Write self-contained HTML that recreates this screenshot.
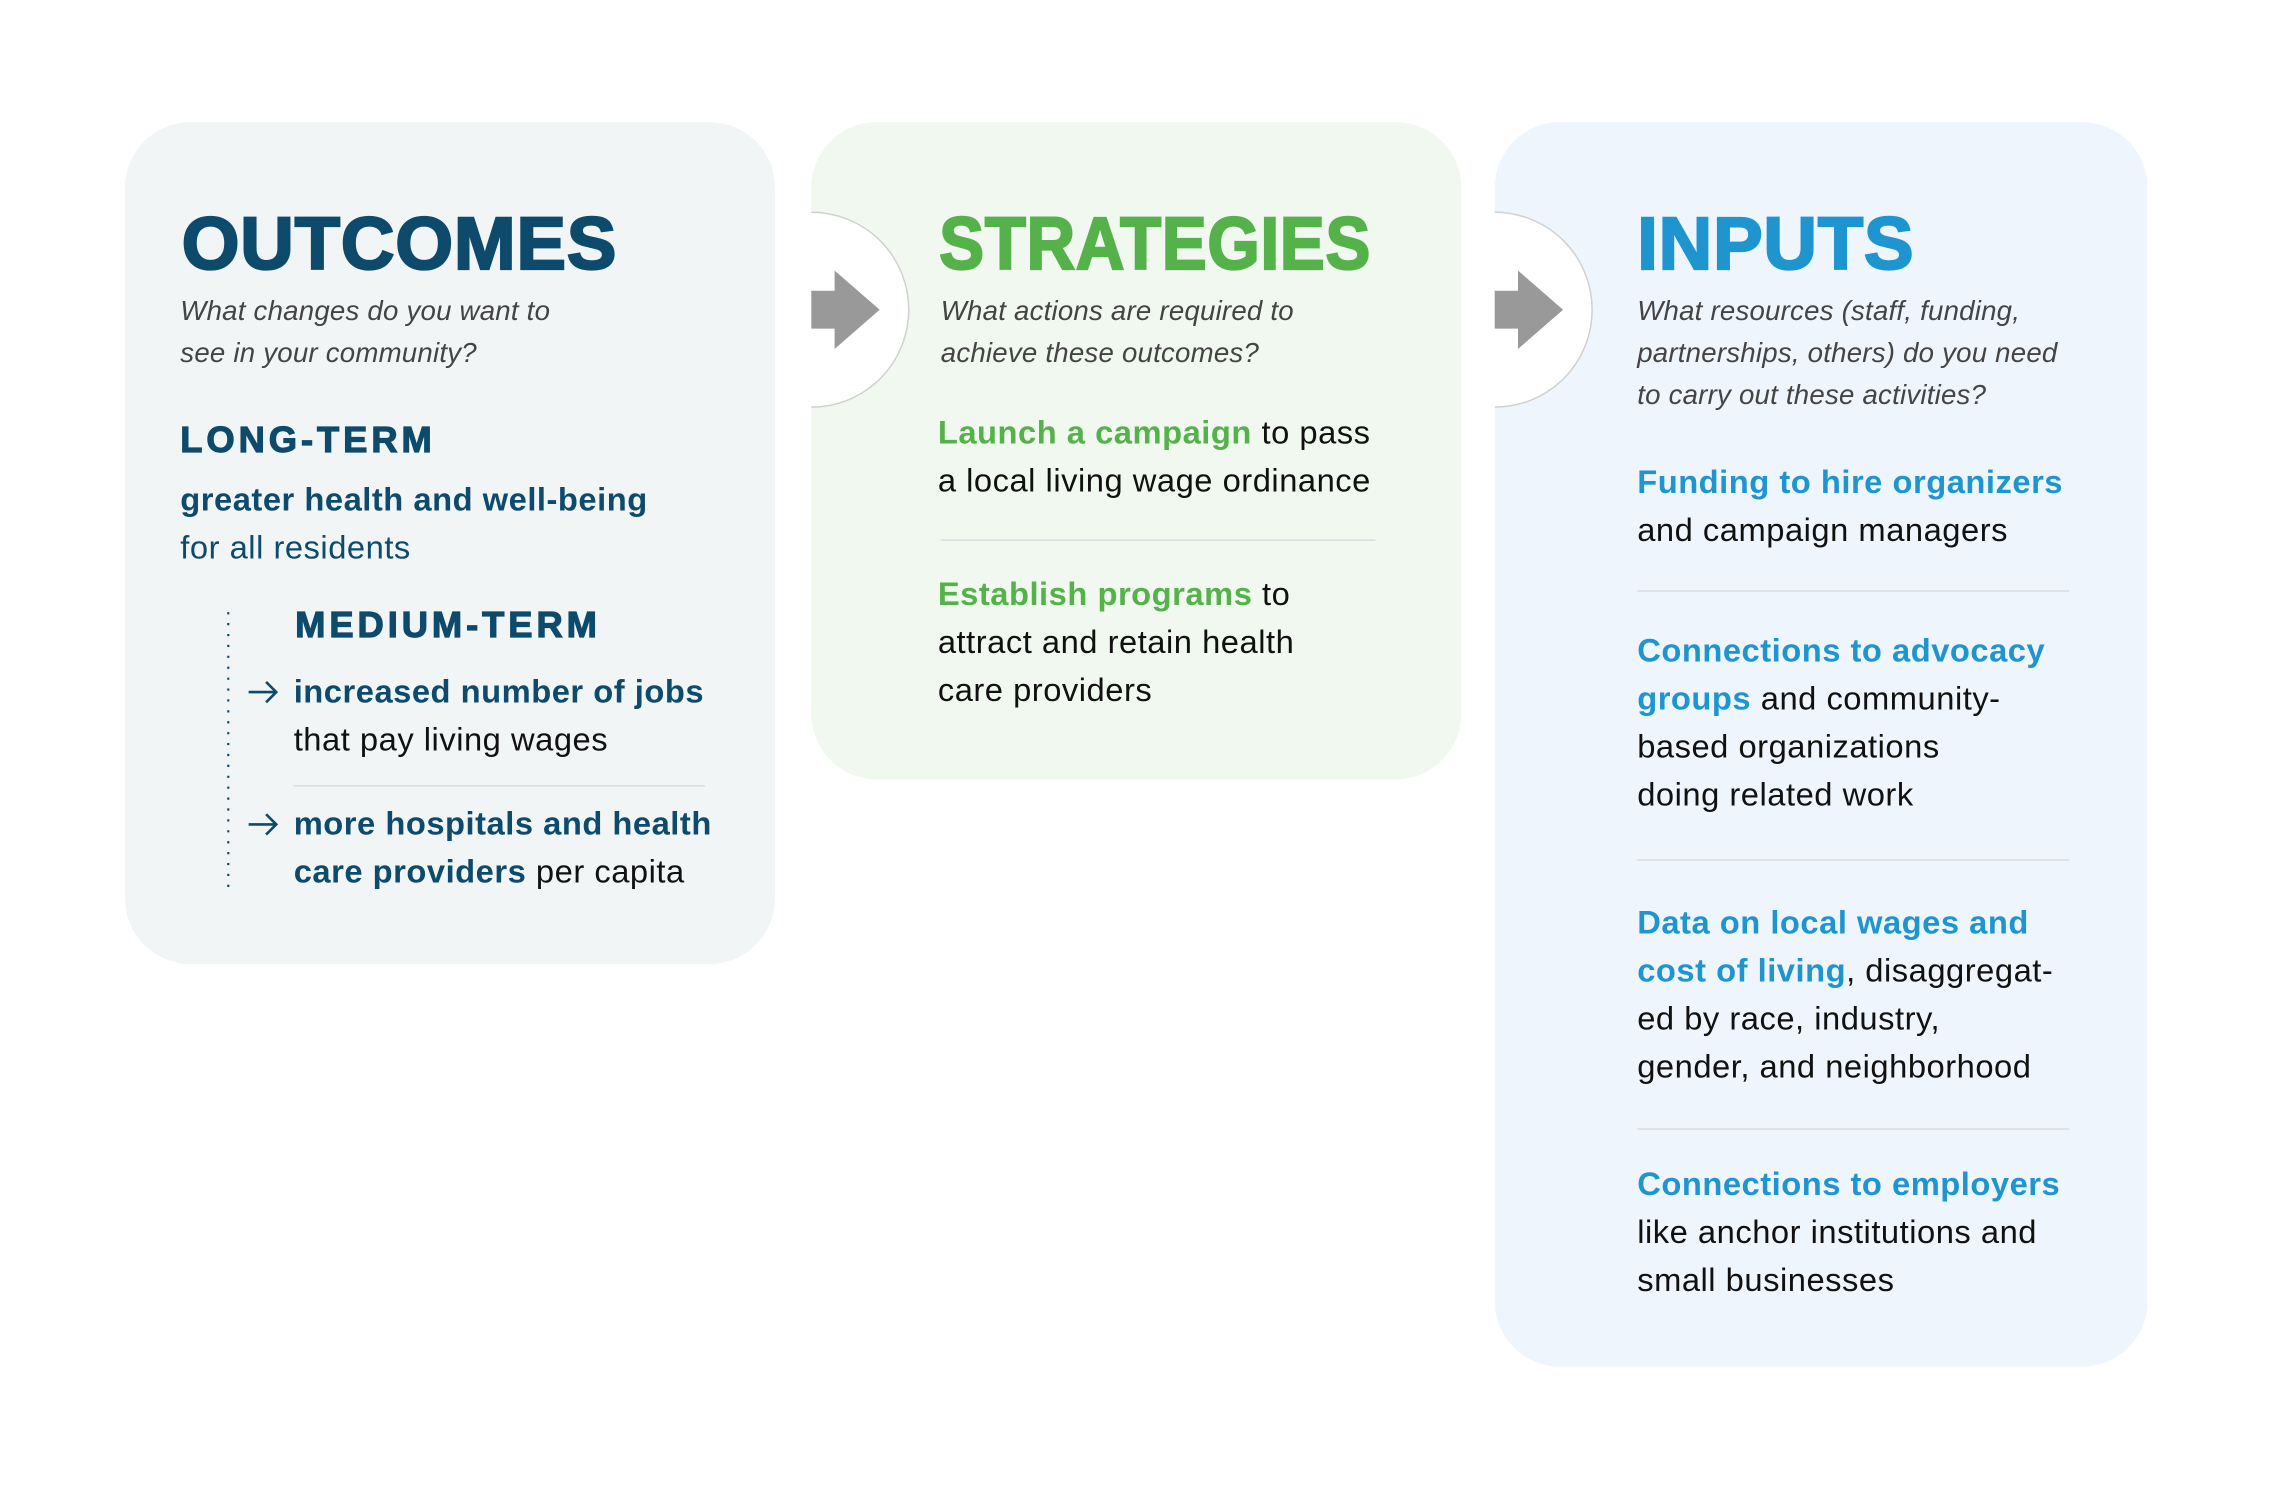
<!DOCTYPE html>
<html><head><meta charset="utf-8">
<style>
html,body{margin:0;padding:0;background:#fff;}
body{width:2280px;height:1497px;overflow:hidden;position:relative;}
#s{position:absolute;left:0;top:0;width:1553px;height:1020px;transform:scale(1.4540);transform-origin:0 0;font-family:"Liberation Sans",sans-serif;}
.box{position:absolute;border-radius:45px;}
.t{position:absolute;white-space:nowrap;}
.title{font-weight:bold;font-size:51px;line-height:51px;-webkit-text-stroke:1.6px currentColor;transform-origin:0 0;letter-spacing:0.6px;}
.sub{font-style:italic;font-size:19px;line-height:29px;color:#444;letter-spacing:0.15px;}
.b{font-size:22.5px;line-height:33px;color:#111;letter-spacing:0.35px;}
.h{font-weight:bold;font-size:25px;line-height:25px;color:#0d4a6b;letter-spacing:2.7px;-webkit-text-stroke:0.8px #0d4a6b;}
.dk{color:#0d4a6b;font-weight:bold;}
.gr{color:#55b24a;font-weight:bold;}
.bl{color:#1f95d0;font-weight:bold;}
.sep{position:absolute;height:1px;background:#d8dcde;}
</style></head><body>
<div id="s">
<div class="box" style="left:86px;top:84px;width:447px;height:579px;background:#f1f5f6"></div>
<div class="box" style="left:558px;top:84px;width:447px;height:452px;background:#f1f8f0"></div>
<div class="box" style="left:1028px;top:84px;width:449px;height:856px;background:#eef5fc"></div>

<svg style="position:absolute;left:0;top:0" width="1553" height="1020">
<path d="M558 146 A67 67 0 0 1 558 280 Z" fill="#fff"/>
<path d="M558 146 A67 67 0 0 1 558 280" fill="none" stroke="#d0d0d0" stroke-width="1"/>
<polygon points="558,200 574,200 574,186 605,213 574,240 574,226 558,226" fill="#999"/>
<path d="M1028 146 A67 67 0 0 1 1028 280 Z" fill="#fff"/>
<path d="M1028 146 A67 67 0 0 1 1028 280" fill="none" stroke="#d0d0d0" stroke-width="1"/>
<polygon points="1028,200 1044,200 1044,186 1075,213 1044,240 1044,226 1028,226" fill="#999"/>
<line x1="157" y1="421" x2="157" y2="610" stroke="#0d4a6b" stroke-width="1.5" stroke-dasharray="1.5 6"/>
<g stroke="#0d4a6b" stroke-width="1.8" fill="none">
<path d="M171 476 H190 M183 469 L190 476 L183 483"/>
<path d="M171 567 H190 M183 560 L190 567 L183 574"/>
</g>
</svg>

<!-- Outcomes -->
<div class="t title" style="left:125px;top:142px;color:#0d4a6b">OUTCOMES</div>
<div class="t sub" style="left:124px;top:200px">What changes do you want to<br>see in your community?</div>
<div class="t h" style="left:124px;top:291px">LONG-TERM</div>
<div class="t b" style="left:124px;top:327px"><span class="dk">greater health and well-being</span><br><span style="color:#0d4a6b">for all residents</span></div>
<div class="t h" style="left:203px;top:418px">MEDIUM-TERM</div>
<div class="t b" style="left:202px;top:459px"><span class="dk">increased number of jobs</span><br>that pay living wages</div>
<div class="sep" style="left:202px;top:540px;width:283px"></div>
<div class="t b" style="left:202px;top:550px"><span class="dk">more hospitals and health</span><br><span class="dk">care providers</span> per capita</div>

<!-- Strategies -->
<div class="t title" style="left:646px;top:142px;color:#55b24a;transform:scaleX(0.905)">STRATEGIES</div>
<div class="t sub" style="left:647px;top:200px">What actions are required to<br>achieve these outcomes?</div>
<div class="t b" style="left:645px;top:281px"><span class="gr">Launch a campaign</span> to pass<br>a local living wage ordinance</div>
<div class="sep" style="left:647px;top:371px;width:299px"></div>
<div class="t b" style="left:645px;top:392px"><span class="gr">Establish programs</span> to<br>attract and retain health<br>care providers</div>

<!-- Inputs -->
<div class="t title" style="left:1126px;top:142px;color:#1f95d0">INPUTS</div>
<div class="t sub" style="left:1126px;top:200px">What resources (staff, funding,<br>partnerships, others) do you need<br>to carry out these activities?</div>
<div class="t b" style="left:1126px;top:315px"><span class="bl">Funding to hire organizers</span><br>and campaign managers</div>
<div class="sep" style="left:1126px;top:406px;width:297px"></div>
<div class="t b" style="left:1126px;top:431px"><span class="bl">Connections to advocacy</span><br><span class="bl">groups</span> and community-<br>based organizations<br>doing related work</div>
<div class="sep" style="left:1126px;top:591px;width:297px"></div>
<div class="t b" style="left:1126px;top:618px"><span class="bl">Data on local wages and</span><br><span class="bl">cost of living</span>, disaggregat-<br>ed by race, industry,<br>gender, and neighborhood</div>
<div class="sep" style="left:1126px;top:776px;width:297px"></div>
<div class="t b" style="left:1126px;top:798px"><span class="bl">Connections to employers</span><br>like anchor institutions and<br>small businesses</div>
</div>
</body></html>
